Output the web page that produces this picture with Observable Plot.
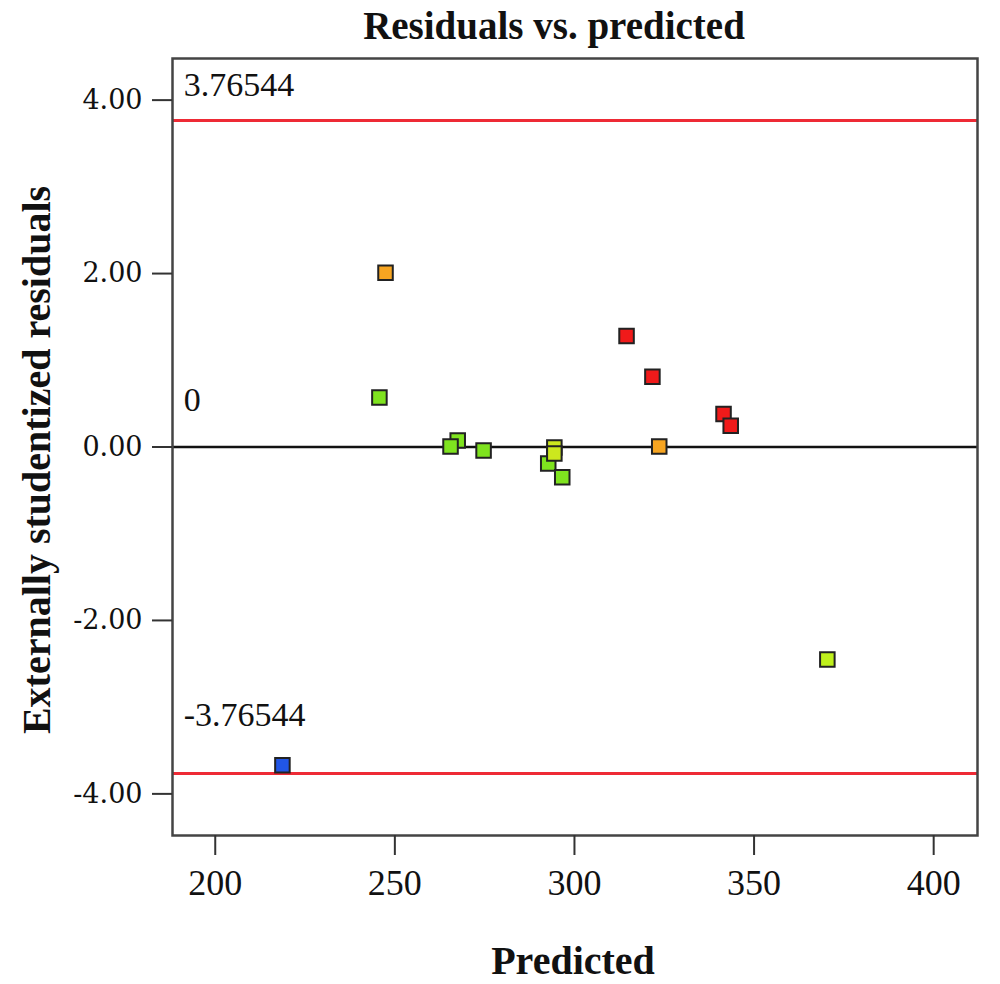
<!DOCTYPE html>
<html>
<head>
<meta charset="utf-8">
<script src="https://cdn.jsdelivr.net/npm/d3@7"></script>
<script src="https://cdn.jsdelivr.net/npm/@observablehq/plot@0.6"></script>
<style>
  body { margin: 0; background: #fff; }
  #wrap { position: relative; width: 1000px; height: 984px; font-family: "Liberation Serif", serif; }
  .lbl { position: absolute; font-family: "Liberation Serif", serif; font-weight: bold; color: #111; white-space: nowrap; text-align: center; }
</style>
</head>
<body>
<div id="wrap">
  <div class="lbl" id="title" style="left:354px; top:6px; width:400px; font-size:39px; line-height:39px;">Residuals vs. predicted</div>
  <div class="lbl" id="ylab" style="left:-313px; top:440px; width:700px; font-size:40px; line-height:40px; transform: rotate(-90deg);">Externally studentized residuals</div>
  <div class="lbl" id="xlab" style="left:373px; top:941px; width:400px; font-size:40px; line-height:40px;">Predicted</div>
</div>
<script>
// Data
const predicted = [218.7, 245.7, 247.4, 265.5, 267.5, 274.7, 292.7, 294.4, 294.4, 296.6, 314.5, 321.7, 323.6, 341.5, 343.5, 370.4];
const residual  = [-3.67, 0.57, 2.01, 0.006, 0.075, -0.04, -0.19, -0.006, -0.075, -0.35, 1.28, 0.81, 0.006, 0.38, 0.245, -2.45];
const level     = ["L1", "L2", "L5", "L2", "L2", "L2", "L2", "L4", "L4", "L2", "L6", "L6", "L5", "L6", "L6", "L3"];
const levelNames  = ["L1", "L2", "L3", "L4", "L5", "L6"];
const levelColors = ["#2156e6", "#7fe31f", "#bff01c", "#cce81e", "#f7a521", "#f01a1a"];
const xTicks = [200, 250, 300, 350, 400];
const yTicks = [-4, -2, 0, 2, 4];
const limit = 3.76544;
const limitLabels = ["3.76544", "0", "-3.76544"];
const limitLabelY = [4.05, 0.42, -3.22];
const limitLabelX = 191.2;

// draw order to mimic overlaps
const order = [0, 1, 2, 4, 3, 5, 6, 7, 8, 9, 10, 11, 12, 13, 14, 15];
const pts = order.map(i => ({x: predicted[i], y: residual[i], c: level[i]}));
const ann = limitLabels.map((t, i) => ({t, y: limitLabelY[i], x: limitLabelX}));
const fmtY = v => d3.format(".2f")(v).replace("\u2212", "-");

const chart = Plot.plot({
  width: 1000,
  height: 984,
  marginLeft: 172,
  marginRight: 23,
  marginTop: 58,
  marginBottom: 149,
  style: {background: "transparent", overflow: "visible"},
  x: {domain: [188.1, 412.2]},
  y: {domain: [-4.48, 4.48]},
  color: {type: "ordinal", domain: levelNames, range: levelColors},
  marks: [
    Plot.ruleY([limit, -limit], {stroke: "#ee2a35", strokeWidth: 3}),
    Plot.ruleY([0], {stroke: "#111", strokeWidth: 2.5}),
    Plot.text(ann, {x: "x", y: "y", text: "t", textAnchor: "start", lineAnchor: "bottom", fontSize: 34, fontFamily: "Liberation Serif", fill: "#111"}),
    Plot.dot(pts, {x: "x", y: "y", fill: "c", symbol: "square", r: 8.2, stroke: "#222", strokeWidth: 2}),
    Plot.frame({stroke: "#444", strokeWidth: 2.5}),
    Plot.axisX({ticks: xTicks, tickSize: 20, tickPadding: 14, tickFormat: d => String(d), fontSize: 36, fontFamily: "Liberation Serif", stroke: "#333", strokeWidth: 2, color: "#111", label: null}),
    Plot.axisY({ticks: yTicks, tickSize: 20, tickPadding: 10, tickFormat: fmtY, fontSize: 27, fontFamily: "DejaVu Serif", stroke: "#333", strokeWidth: 2, color: "#111", label: null})
  ]
});
chart.style.position = "absolute";
chart.style.left = "0px";
chart.style.top = "0px";
document.getElementById("wrap").prepend(chart);
</script>
</body>
</html>
